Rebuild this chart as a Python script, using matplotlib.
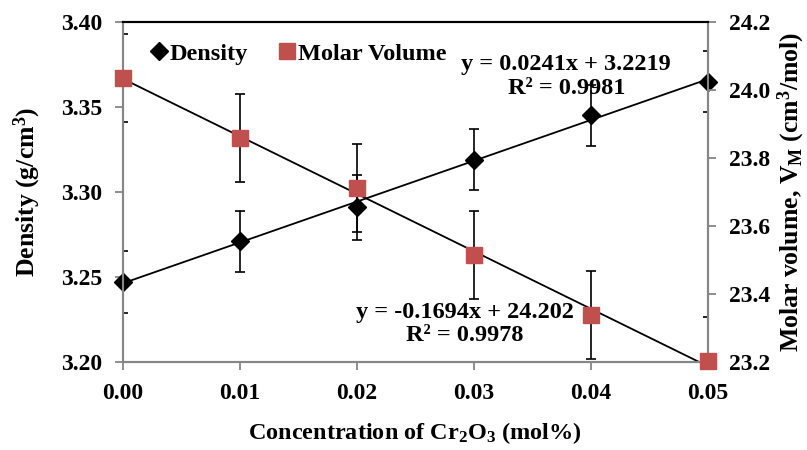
import numpy as np
import matplotlib
matplotlib.use('Agg')
import matplotlib.pyplot as plt
from matplotlib.lines import Line2D

plt.rcParams['font.family'] = ['Liberation Serif', 'DejaVu Serif']
plt.rcParams['font.weight'] = 'bold'
plt.rcParams['mathtext.fontset'] = 'custom'
plt.rcParams['mathtext.rm'] = 'Liberation Serif:bold'
plt.rcParams['mathtext.bf'] = 'Liberation Serif:bold'
plt.rcParams['mathtext.it'] = 'Liberation Serif:bold'

# data
conc = [0.00, 0.01, 0.02, 0.03, 0.04, 0.05]
density = [3.247, 3.271, 3.291, 3.319, 3.345, 3.365]
density_err = [0.018, 0.018, 0.019, 0.018, 0.018, 0.018]
molar_vol = [24.035, 23.858, 23.712, 23.515, 23.338, 23.203]
molar_err = [0.13, 0.13, 0.13, 0.13, 0.13, 0.13]

xticks = [0.00, 0.01, 0.02, 0.03, 0.04, 0.05]
yticks_left = [3.20, 3.25, 3.30, 3.35, 3.40]
yticks_right = [23.2, 23.4, 23.6, 23.8, 24.0, 24.2]

red = '#C0504D'
gray = '#868686'
fs = 17.5

fig = plt.figure(figsize=(8.07, 4.5), dpi=100)
ax = fig.add_axes([0.1524, 0.1956, 0.7246, 0.7555])
ax2 = ax.twinx()

# density (left axis)
x = np.array(conc)
idx = np.arange(1, 7)
p1 = np.polyfit(idx, density, 1)
ax.plot(x, np.polyval(p1, idx), color='black', lw=1.3, zorder=2)
ax.errorbar(x, density, yerr=density_err, fmt='none', ecolor='black',
            elinewidth=1.2, capsize=3.6, capthick=1.2, zorder=2)
ax.plot(x, density, 'D', color='black', ms=9, clip_on=False, zorder=3)

# molar volume (right axis)
p2 = np.polyfit(idx, molar_vol, 1)
ax2.plot(x, np.polyval(p2, idx), color='black', lw=1.3, zorder=2)
ax2.errorbar(x, molar_vol, yerr=molar_err, fmt='none', ecolor='black',
             elinewidth=1.2, capsize=3.6, capthick=1.2, zorder=2)
ax2.plot(x, molar_vol, 's', color=red, ms=11.5, clip_on=False, zorder=3)

ax.set_xlim(0, 0.05)
ax.set_ylim(3.20, 3.40)
ax2.set_ylim(23.2, 24.2)
ax.set_xticks(xticks)
ax.set_xticklabels([f'{v:.2f}' for v in xticks])
ax.set_yticks(yticks_left)
ax.set_yticklabels([f'{v:.2f}' for v in yticks_left])
ax2.set_yticks(yticks_right)
ax2.set_yticklabels([f'{v:.1f}' for v in yticks_right])

for a in (ax, ax2):
    for s in ('left', 'bottom', 'right'):
        a.spines[s].set_color(gray)
        a.spines[s].set_linewidth(1.5)
    a.spines['top'].set_color('black')
    a.spines['top'].set_linewidth(1.5)
    a.tick_params(axis='both', direction='out', length=6, width=1.3,
                  color=gray, labelsize=17, pad=9)

ax.set_xlabel('Concentration of Cr$_2$O$_3$ (mol%)', fontsize=fs,
              fontweight='bold', labelpad=12)
ax.set_ylabel('Density (g/cm$^3$)', fontsize=18.5, fontweight='bold', labelpad=13)
ax2.set_ylabel('Molar volume, V$_\\mathrm{M}$ (cm$^3$/mol)', fontsize=18.5,
               fontweight='bold', labelpad=4)

# trendline labels
ax.text(0.0379, 3.368, 'y = 0.0241x + 3.2219\nR\u00b2 = 0.9981', ha='center',
        va='center', fontsize=fs, fontweight='bold', linespacing=1.15, zorder=5)
ax.text(0.0292, 3.2224, 'y = -0.1694x + 24.202\nR\u00b2 = 0.9978', ha='center',
        va='center', fontsize=fs, fontweight='bold', linespacing=1.15, zorder=5)

handles = [Line2D([], [], marker='D', color='black', ls='none', ms=9),
           Line2D([], [], marker='s', color=red, ls='none', ms=11.5)]
ax2.legend(handles, ['Density', 'Molar Volume'], loc='upper left',
           bbox_to_anchor=(0.005, 1.003), ncol=2, frameon=False,
           handletextpad=0.0, columnspacing=1.15, handlelength=0.9,
           prop={'family': 'Liberation Serif', 'weight': 'bold', 'size': fs})

fig.savefig('out.png', dpi=100)
